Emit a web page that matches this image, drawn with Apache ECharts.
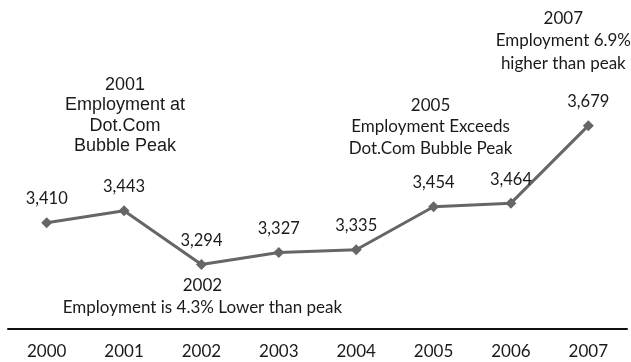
<!DOCTYPE html>
<html>
<head>
<meta charset="utf-8">
<script src="https://cdn.jsdelivr.net/npm/echarts@6/dist/echarts.min.js"></script>
<style>
  html, body { margin: 0; padding: 0; background: #fff; }
  #chart { width: 631px; height: 362px; }
</style>
</head>
<body>
<div id="chart"></div>
<script>
const years = ['2000', '2001', '2002', '2003', '2004', '2005', '2006', '2007']
const employment = [3410, 3443, 3294, 3327, 3335, 3454, 3464, 3679]

// callouts attached to a year
const noteYears = ['2001', '2002', '2005', '2007']
const noteTexts = [
  '2001\nEmployment at\nDot.Com\nBubble Peak',
  '2002\nEmployment is 4.3% Lower than peak',
  '2005\nEmployment Exceeds\nDot.Com Bubble Peak',
  '2007\nEmployment 6.9%\nhigher than peak'
]

const noteStyle = {
  '2001': { offset: [1, -95], fontFamily: 'Liberation Sans', fontSize: 18, lineHeight: 20.5 },
  '2002': { offset: [1, 32], fontFamily: 'Lato', fontSize: 17, lineHeight: 22 },
  '2005': { offset: [-3, -80], fontFamily: 'Lato', fontSize: 17, lineHeight: 21.5 },
  '2007': { offset: [-25, -85], fontFamily: 'Lato', fontSize: 17, lineHeight: 22.5 }
}

const chart = echarts.init(document.getElementById('chart'))

const option = {
  animation: false,
  grid: { left: 8, right: 4, top: 46, bottom: 33 },
  xAxis: {
    type: 'category',
    data: years,
    boundaryGap: true,
    axisLine: { lineStyle: { color: '#111', width: 2 } },
    axisTick: { show: false },
    axisLabel: { color: '#1a1a1a', fontFamily: 'Lato', fontSize: 17, margin: 14 }
  },
  yAxis: {
    type: 'value',
    show: false,
    min: 3115,
    max: 3900
  },
  series: [
    {
      type: 'line',
      data: employment,
      symbol: 'diamond',
      symbolSize: 11,
      lineStyle: { color: '#666', width: 3 },
      itemStyle: { color: '#666' },
      label: {
        show: true,
        position: 'top',
        distance: 10,
        color: '#1a1a1a',
        fontFamily: 'Lato',
        fontSize: 16.5,
        formatter: (p) => p.value.toLocaleString('en-US')
      },
      markPoint: {
        symbol: 'circle',
        symbolSize: 0,
        itemStyle: { color: 'transparent' },
        data: noteYears.map((y, i) => {
          const s = noteStyle[y]
          return {
            coord: [y, employment[years.indexOf(y)]],
            label: {
              show: true,
              position: 'inside',
              formatter: noteTexts[i],
              offset: s.offset,
              color: '#1a1a1a',
              align: 'center',
              verticalAlign: 'middle',
              fontFamily: s.fontFamily,
              fontSize: s.fontSize,
              lineHeight: s.lineHeight
            }
          }
        })
      }
    }
  ]
}

chart.setOption(option)
</script>
</body>
</html>
